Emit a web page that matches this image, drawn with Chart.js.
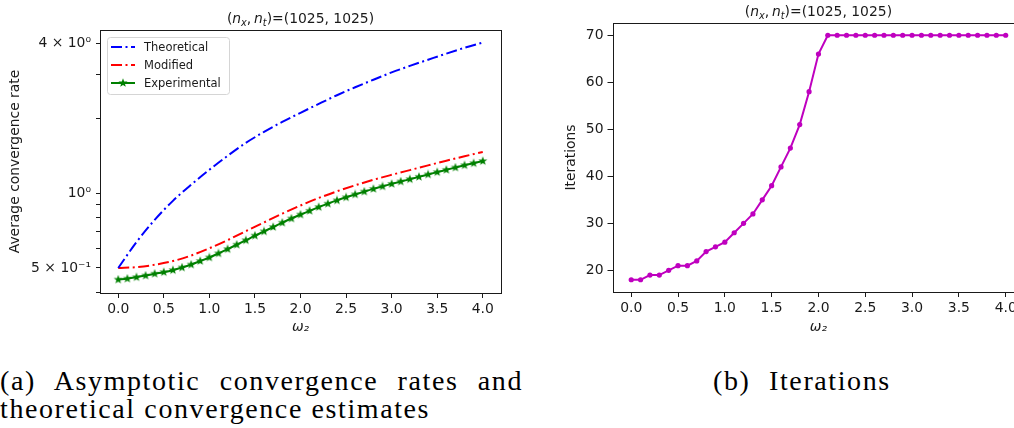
<!DOCTYPE html>
<html>
<head>
<meta charset="utf-8">
<script src="https://cdn.jsdelivr.net/npm/chart.js@4.4.1/dist/chart.umd.min.js"></script>
<style>
html, body { margin: 0; padding: 0; background: #fff; overflow: hidden; }
#wrap { position: relative; width: 1014px; height: 428px; overflow: hidden; }
canvas { position: absolute; top: 0; }
.cap { position: absolute; font-family: "Liberation Serif", serif; font-size: 28px; line-height: 28px; letter-spacing: 1.6px; color: #000; }
</style>
</head>
<body>
<div id="wrap">
  <canvas id="rateChart" width="540" height="345" style="left:0"></canvas>
  <canvas id="iterChart" width="500" height="345" style="left:540px"></canvas>
  <div class="cap" style="left:0;top:367px;width:523px;text-align:justify;text-align-last:justify;">(a) Asymptotic convergence rates and</div>
  <div class="cap" style="left:0;top:395px;white-space:nowrap;">theoretical convergence estimates</div>
  <div class="cap" style="left:713px;top:367px;white-space:nowrap;word-spacing:10px;">(b) Iterations</div>
</div>
<script>
// omega_2 samples
const omegaFine = [0.0, 0.1, 0.2, 0.3, 0.4, 0.5, 0.6, 0.7, 0.8, 0.9, 1.0, 1.1, 1.2, 1.3, 1.4, 1.5, 1.6, 1.7, 1.8, 1.9, 2.0,
                   2.1, 2.2, 2.3, 2.4, 2.5, 2.6, 2.7, 2.8, 2.9, 3.0, 3.1, 3.2, 3.3, 3.4, 3.5, 3.6, 3.7, 3.8, 3.9, 4.0];
const omegaCoarse = [0.0, 0.2, 0.4, 0.6, 0.8, 1.0, 1.2, 1.4, 1.6, 1.8, 2.0, 2.2, 2.4, 2.6, 2.8, 3.0, 3.2, 3.4, 3.6, 3.8, 4.0];

// (a) convergence rates
const theoretical = [0.50, 0.635, 0.78, 0.93, 1.08, 1.24, 1.41, 1.59, 1.76, 1.93, 2.10, 2.28, 2.47, 2.66, 2.85, 3.05, 3.24, 3.43, 3.63, 3.83, 4.02];
const modified = [0.500, 0.504, 0.515, 0.533, 0.561, 0.600, 0.647, 0.703, 0.762, 0.826, 0.891, 0.955, 1.016, 1.074, 1.130, 1.183, 1.236, 1.291, 1.348, 1.405, 1.461];
const experimental = [0.449, 0.453, 0.459, 0.466, 0.474, 0.481, 0.490, 0.502, 0.516, 0.533, 0.551, 0.572, 0.595, 0.620, 0.646, 0.674, 0.701, 0.730, 0.760, 0.790, 0.819,
                      0.848, 0.878, 0.906, 0.934, 0.961, 0.987, 1.013, 1.039, 1.063, 1.088, 1.112, 1.136, 1.161, 1.187, 1.213, 1.239, 1.266, 1.292, 1.317, 1.343];

// (b) iterations
const iterations = [18, 18, 19, 19, 20, 21, 21, 22, 24, 25, 26, 28, 30, 32, 35, 38, 42, 46, 51, 58, 66,
                    70, 70, 70, 70, 70, 70, 70, 70, 70, 70, 70, 70, 70, 70, 70, 70, 70, 70, 70, 70];

// ticks
const xTicks = [0.0, 0.5, 1.0, 1.5, 2.0, 2.5, 3.0, 3.5, 4.0];
const rateTicks = [0.4, 0.5, 0.6, 0.7, 0.8, 0.9, 1, 2, 3, 4];
const rateTickLabels = ['', '5 \u00d7 10\u207b\u00b9', '', '', '', '', '10\u2070', '', '', '4 \u00d7 10\u2070'];
const iterTicks = [20, 30, 40, 50, 60, 70];

const legendLabels = ['Theoretical', 'Modified', 'Experimental'];

const FONT = 'DejaVu Sans';
const INK = '#1a1a1a';

function makeStar(size, color) {
    const c = document.createElement('canvas');
    c.width = size;
    c.height = size;
    const g = c.getContext('2d');
    const R = size / 2 - 0.3, r = R * 0.42;
    g.beginPath();
    for (let i = 0; i < 10; i++) {
        const a = -Math.PI / 2 + i * Math.PI / 5;
        const rad = i % 2 ? r : R;
        g.lineTo(size / 2 + rad * Math.cos(a), size / 2 + rad * Math.sin(a));
    }
    g.closePath();
    g.fillStyle = color;
    g.fill();
    return c;
}
const star = makeStar(10, '#008000');

function pts(xs, ys) {
    return xs.map((x, i) => ({ x: x, y: ys[i] }));
}

// draws "(n_x, n_t)=(1025, 1025)" with italic n and subscripts
function drawMathTitle(ctx, cx, baseline) {
    const size = 13.9;
    const parts = [
        { t: '(', f: `${size}px "${FONT}"`, dy: 0 },
        { t: 'n', f: `italic ${size}px "${FONT}"`, dy: 0 },
        { t: 'x', f: `italic ${size * 0.7}px "${FONT}"`, dy: 2.8 },
        { t: ',\u2009', f: `${size}px "${FONT}"`, dy: 0 },
        { t: 'n', f: `italic ${size}px "${FONT}"`, dy: 0 },
        { t: 't', f: `italic ${size * 0.7}px "${FONT}"`, dy: 2.8 },
        { t: ')=(1025, 1025)', f: `${size}px "${FONT}"`, dy: 0 }
    ];
    ctx.save();
    let total = 0;
    parts.forEach(p => { ctx.font = p.f; p.w = ctx.measureText(p.t).width; total += p.w; });
    let x = cx - total / 2;
    ctx.fillStyle = INK;
    ctx.textBaseline = 'alphabetic';
    ctx.textAlign = 'left';
    parts.forEach(p => { ctx.font = p.f; ctx.fillText(p.t, x, baseline + p.dy); x += p.w; });
    ctx.restore();
}

const framePlugin = {
    id: 'frame',
    afterDatasetsDraw(chart) {
        const a = chart.chartArea;
        const ctx = chart.ctx;
        ctx.save();
        ctx.strokeStyle = INK;
        ctx.lineWidth = 1;
        ctx.strokeRect(Math.round(a.left) + 0.5, Math.round(a.top) + 0.5, Math.round(a.right - a.left), Math.round(a.bottom - a.top));
        ctx.restore();
        drawMathTitle(ctx, (a.left + a.right) / 2, a.top - 7);
    }
};

const legendPlugin = {
    id: 'boxLegend',
    afterDraw(chart) {
        const a = chart.chartArea;
        const ctx = chart.ctx;
        const x0 = a.left + 7, y0 = a.top + 7, w = 122, h = 57;
        ctx.save();
        ctx.beginPath();
        ctx.roundRect(x0 + 0.5, y0 + 0.5, w, h, 3);
        ctx.fillStyle = 'rgba(255,255,255,0.8)';
        ctx.fill();
        ctx.strokeStyle = '#d5d5d5';
        ctx.lineWidth = 1;
        ctx.stroke();
        chart.data.datasets.forEach((ds, i) => {
            const cy = y0 + 10 + i * 18;
            ctx.beginPath();
            ctx.setLineDash(ds.borderDash || []);
            ctx.strokeStyle = ds.borderColor;
            ctx.lineWidth = ds.borderWidth;
            ctx.moveTo(x0 + 4, cy);
            ctx.lineTo(x0 + 28, cy);
            ctx.stroke();
            ctx.setLineDash([]);
            if (ds.pointStyle instanceof HTMLCanvasElement) {
                ctx.drawImage(ds.pointStyle, x0 + 16 - 5, cy - 5);
            }
            ctx.fillStyle = INK;
            ctx.font = `11.5px "${FONT}"`;
            ctx.textBaseline = 'middle';
            ctx.fillText(ds.label, x0 + 37, cy + 1);
        });
        ctx.restore();
    }
};

function xAxis(height) {
    return {
        type: 'linear',
        min: -0.2,
        max: 4.2,
        afterBuildTicks: s => { s.ticks = xTicks.map(v => ({ value: v })); },
        afterFit: s => { s.height = height; },
        grid: { drawOnChartArea: false, tickLength: 5, tickColor: INK },
        border: { display: false },
        ticks: { color: INK, font: { family: FONT, size: 13.9 }, padding: 3, maxRotation: 0, autoSkip: false,
                 callback: v => v.toFixed(1) },
        title: { display: true, text: '\u03c9\u2082', color: INK, font: { family: FONT, size: 13.9, style: 'italic' },
                 padding: { top: 0, bottom: 9.7 } }
    };
}

new Chart(document.getElementById('rateChart'), {
    type: 'line',
    data: {
        datasets: [
            { label: legendLabels[0], data: pts(omegaCoarse, theoretical), borderColor: '#0000ff', borderWidth: 2,
              borderDash: [11, 3.5, 2, 3.5], pointRadius: 0, cubicInterpolationMode: 'monotone' },
            { label: legendLabels[1], data: pts(omegaCoarse, modified), borderColor: '#ff0000', borderWidth: 2,
              borderDash: [11, 3.5, 2, 3.5], pointRadius: 0, cubicInterpolationMode: 'monotone' },
            { label: legendLabels[2], data: pts(omegaFine, experimental), borderColor: '#008000', borderWidth: 2,
              pointStyle: star, pointRadius: 5, cubicInterpolationMode: 'monotone' }
        ]
    },
    options: {
        responsive: false,
        animation: false,
        events: [],
        layout: { padding: { left: 0, top: 30, right: 39, bottom: 0 } },
        plugins: { legend: { display: false }, title: { display: false }, tooltip: { enabled: false } },
        scales: {
            x: xAxis(52),
            y: {
                type: 'logarithmic',
                min: 0.3967,
                max: 4.515,
                afterBuildTicks: s => { s.ticks = rateTicks.map(v => ({ value: v })); },
                afterFit: s => { s.width = 100; },
                grid: { drawOnChartArea: false, tickLength: 4, tickColor: INK },
                border: { display: false },
                ticks: { color: INK, font: { family: FONT, size: 13.9 }, padding: 5, autoSkip: false,
                         callback: (v, i) => rateTickLabels[rateTicks.indexOf(v)] || '' },
                title: { display: true, text: 'Average convergence rate', color: INK,
                         font: { family: FONT, size: 13.9 }, padding: { top: 6.7, bottom: 0 } }
            }
        }
    },
    plugins: [framePlugin, legendPlugin]
});

new Chart(document.getElementById('iterChart'), {
    type: 'line',
    data: {
        datasets: [
            { label: 'Iterations', data: pts(omegaFine, iterations), borderColor: '#bf00bf', backgroundColor: '#bf00bf',
              borderWidth: 2, pointRadius: 2.6, pointBorderWidth: 0, tension: 0 }
        ]
    },
    options: {
        responsive: false,
        animation: false,
        events: [],
        layout: { padding: { left: 0, top: 23, right: 15.6, bottom: 0 } },
        plugins: { legend: { display: false }, title: { display: false }, tooltip: { enabled: false } },
        scales: {
            x: xAxis(53),
            y: {
                type: 'linear',
                min: 15.4,
                max: 72.6,
                afterBuildTicks: s => { s.ticks = iterTicks.map(v => ({ value: v })); },
                afterFit: s => { s.width = 72.5; },
                grid: { drawOnChartArea: false, tickLength: 5, tickColor: INK },
                border: { display: false },
                ticks: { color: INK, font: { family: FONT, size: 13.9 }, padding: 4, autoSkip: false },
                title: { display: true, text: 'Iterations', color: INK,
                         font: { family: FONT, size: 13.9 }, padding: { top: 23.2, bottom: 0 } }
            }
        }
    },
    plugins: [framePlugin]
});
</script>
</body>
</html>
